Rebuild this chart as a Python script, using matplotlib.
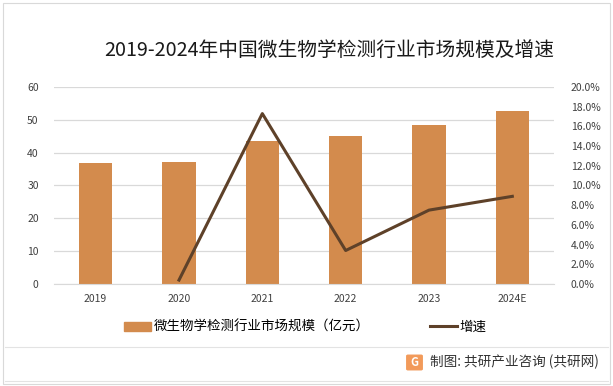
import matplotlib.pyplot as plt
from matplotlib.patches import FancyBboxPatch, Rectangle
from matplotlib.lines import Line2D
import numpy as np

plt.rcParams['font.family'] = ['Noto Sans CJK SC', 'DejaVu Sans']

years = ['2019', '2020', '2021', '2022', '2023', '2024E']
market_size = [37.0, 37.1, 43.5, 45.0, 48.4, 52.7]   # 亿元
growth = [None, 0.4, 17.3, 3.4, 7.5, 8.9]            # %

bar_color = '#D38B4D'
line_color = '#5E4129'
grid_color = '#D9D9D9'

fig = plt.figure(figsize=(6.13, 3.86), dpi=100)
ax = fig.add_axes([54 / 613, 1 - 284 / 386, (554 - 54) / 613, (284 - 87) / 386])

x = np.arange(len(years))
ax.bar(x, market_size, width=0.4, color=bar_color, zorder=2)
ax.set_ylim(0, 60)
ax.set_yticks(range(0, 61, 10))
ax.set_xlim(-0.5, len(years) - 0.5)
ax.set_xticks(x)
ax.set_xticklabels(years)
ax.yaxis.grid(True, color=grid_color, linewidth=0.9, zorder=0)
for s in ax.spines.values():
    s.set_visible(False)
ax.spines['bottom'].set_visible(True)
ax.spines['bottom'].set_color(grid_color)
ax.tick_params(axis='both', length=0, labelsize=7.5, colors='#404040')
ax.tick_params(axis='y', pad=11)
ax.tick_params(axis='x', pad=7)

ax2 = ax.twinx()
gx = [i for i, g in enumerate(growth) if g is not None]
gy = [g for g in growth if g is not None]
ax2.plot(gx, gy, color=line_color, linewidth=2.2, zorder=3)
ax2.set_ylim(0, 20)
ax2.set_yticks(np.arange(0, 21, 2))
ax2.set_yticklabels([f'{v:.1f}%' for v in np.arange(0, 21, 2)])
for s in ax2.spines.values():
    s.set_visible(False)
ax2.tick_params(axis='y', length=0, labelsize=7.5, colors='#404040', pad=12)

fig.text(329 / 613, 1 - 50 / 386, '2019-2024年中国微生物学检测行业市场规模及增速',
         ha='center', va='center', fontsize=14.2, color='#1a1a1a')

# legend
handles = [Rectangle((0, 0), 1, 1, color=bar_color),
           Line2D([0], [0], color=line_color, linewidth=2.2)]
fig.legend(handles[:1], ['微生物学检测行业市场规模（亿元）'], loc='center left',
           bbox_to_anchor=(112 / 613, 1 - 327 / 386), frameon=False, fontsize=9.7,
           handlelength=2.0, handleheight=0.6, handletextpad=0.2)
fig.legend(handles[1:], ['增速'], loc='center left',
           bbox_to_anchor=(418 / 613, 1 - 327 / 386), frameon=False, fontsize=9.7,
           handlelength=2.0, handletextpad=0.2)

# footer
fig.add_artist(Line2D([5 / 613, 608 / 613], [1 - 347 / 386] * 2, color='#E3E3E3', linewidth=0.8))
fig.add_artist(Line2D([5 / 613, 608 / 613], [1 - 381 / 386] * 2, color='#E3E3E3', linewidth=0.8))
fig.add_artist(FancyBboxPatch((408 / 613, 1 - 369 / 386), 13 / 613, 13 / 386,
                              boxstyle='round,pad=0.002', color='#F29A5A', transform=fig.transFigure))
fig.text(414.5 / 613, 1 - 362.5 / 386, 'G', ha='center', va='center', fontsize=8,
         fontweight='bold', color='white')
fig.text(430 / 613, 1 - 362 / 386, '制图: 共研产业咨询 (共研网)', ha='left', va='center',
         fontsize=9.8, color='#333333')

# outer border
fig.add_artist(Rectangle((3 / 613, 2 / 386), 607 / 613, 381 / 386, fill=False,
                         edgecolor='#D9D9D9', linewidth=0.8, transform=fig.transFigure))

fig.savefig('out.png', dpi=100)
